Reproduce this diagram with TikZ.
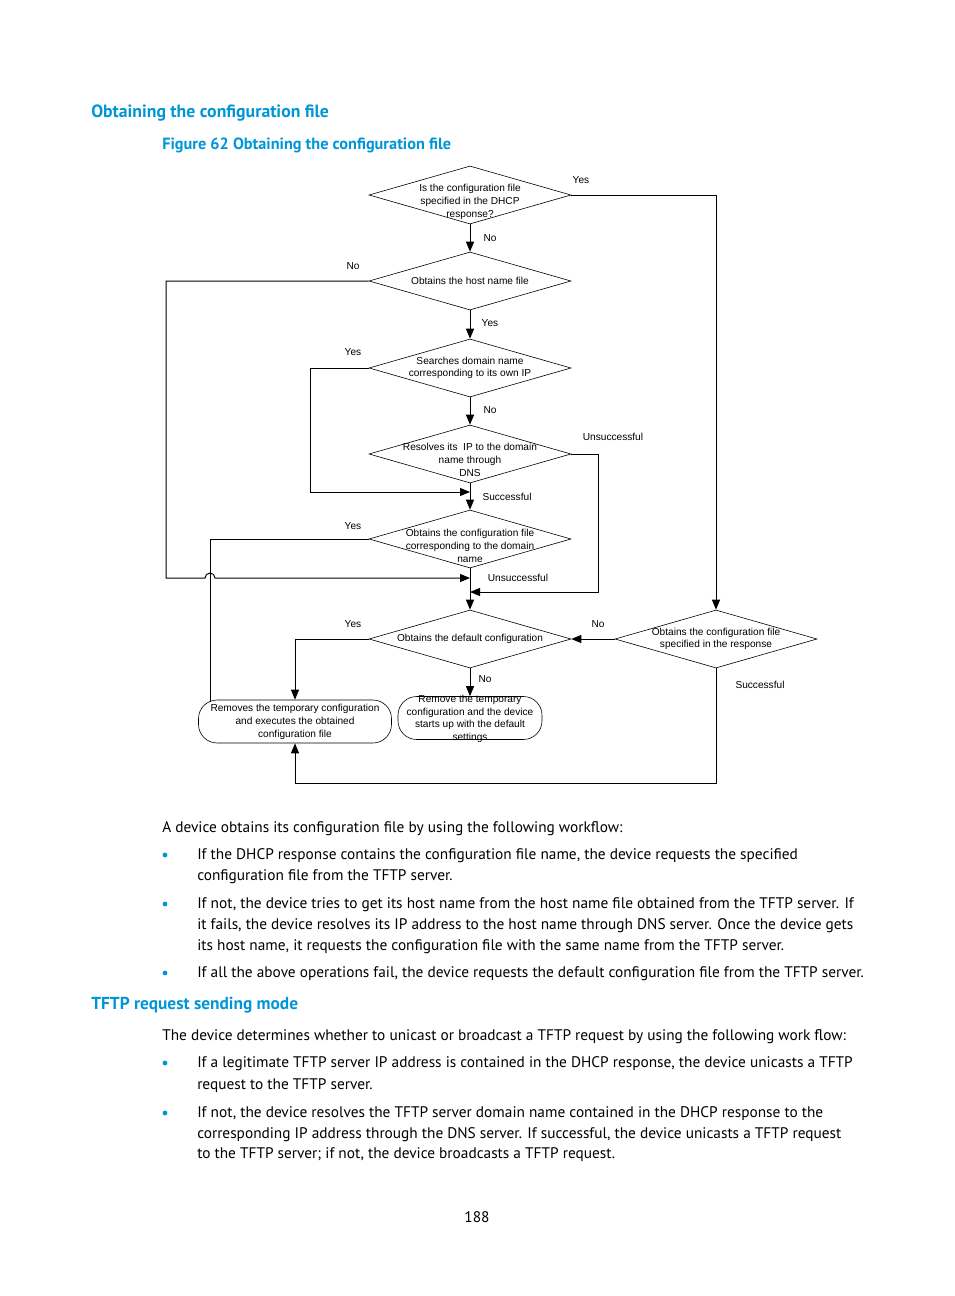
\documentclass[tikz,border=0pt]{standalone}
\usepackage{fontspec}
\setmainfont{PT Sans}
\newfontfamily\chartfont{Liberation Sans}
\usetikzlibrary{arrows.meta,shapes.geometric}
\definecolor{hpblue}{RGB}{0,150,214}
\tikzset{
  decision/.style = {diamond, draw=black, line width=0.45pt, inner sep=0pt, minimum width=151.5pt, minimum height=43.5pt},
  terminal/.style = {rectangle, rounded corners=14pt, draw=black, line width=0.45pt, inner sep=0pt, minimum height=32.25pt},
  chart/.style = {font=\chartfont\fontsize{7.6}{9.5}\selectfont, align=center, inner sep=0pt},
  flow/.style = {-{Triangle[length=7.5pt,width=6pt]}, line width=0.75pt},
  link/.style = {line width=0.75pt},
  bodyline/.style = {anchor=base west, inner sep=0pt, font=\fontsize{11.5}{15.75}\selectfont},
  heading/.style = {anchor=base west, inner sep=0pt, text=hpblue, font=\bfseries\fontsize{13.3}{15}\selectfont},
  bullet/.style = {circle, fill=hpblue, inner sep=0pt, minimum size=3.6pt},
}

\begin{document}
\begin{tikzpicture}[x=0.75pt, y=-0.75pt]
  \useasboundingbox (0,0) rectangle (954,1296);

  % headings
  \node [heading] (h1) at (91,117) {Obtaining the configuration file};
  \node [heading, font=\bfseries\fontsize{12.2}{15}\selectfont] (cap) at (162,149) {Figure 62 Obtaining the configuration file};

  % flow chart
  \node [decision] (d1) at (470,195) {};
  \node [decision] (d2) at (470,281) {};
  \node [decision] (d3) at (470,368) {};
  \node [decision] (d4) at (470,454) {};
  \node [decision] (d5) at (470,539) {};
  \node [decision] (d6) at (470,639) {};
  \node [decision] (d7) at (716,639) {};
  \node [terminal, minimum width=144.75pt] (r1) at (295,721.5) {};
  \node [terminal, minimum width=108pt] (r2) at (470,718) {};

  \node [chart] (d1t) at (470,202) {Is the configuration file\\specified in the DHCP\\response?};
  \node [chart] (d2t) at (470,281) {Obtains the host name file};
  \node [chart] (d3t) at (470,368) {Searches domain name\\corresponding to its own IP};
  \node [chart] (d4t) at (470,460) {Resolves its\ \ IP to the domain\\name through\\DNS};
  \node [chart] (d5t) at (470,546) {Obtains the configuration file\\corresponding to the domain\\name};
  \node [chart] (d6t) at (470,639) {Obtains the default configuration};
  \node [chart] (d7t) at (716,639) {Obtains the configuration file\\specified in the response};
  \node [chart] (r1t) at (295,722) {Removes the temporary configuration\\and executes the obtained\\configuration file};
  \node [chart] (r2t) at (470,719) {Remove the temporary\\configuration and the device\\starts up with the default\\settings};

  % branch labels
  \node [chart] (y1) at (581,180) {Yes};
  \node [chart] (n1) at (490,238) {No};
  \node [chart] (n2) at (353,266) {No};
  \node [chart] (y2) at (490,323) {Yes};
  \node [chart] (y3) at (353,352) {Yes};
  \node [chart] (n3) at (490,410) {No};
  \node [chart] (u1) at (613,437) {Unsuccessful};
  \node [chart] (s1) at (507,497) {Successful};
  \node [chart] (y4) at (353,526) {Yes};
  \node [chart] (u2) at (518,578) {Unsuccessful};
  \node [chart] (y5) at (353,624) {Yes};
  \node [chart] (n4) at (598,624) {No};
  \node [chart] (n5) at (485,679) {No};
  \node [chart] (s2) at (760,685) {Successful};

  \coordinate (j1) at (470,492);
  \coordinate (j2) at (470,578);
  \coordinate (j3) at (470,592);
  \coordinate (r1c) at (210,702);

  \draw [flow] (d1.south) -- (d2.north);
  \draw [flow] (d2.south) -- (d3.north);
  \draw [flow] (d3.south) -- (d4.north);
  \draw [flow] (d4.south) -- (d5.north);
  \draw [flow] (d5.south) -- (d6.north);
  \draw [flow] (d6.south) -- (r2.north);
  \draw [flow] (d1.east) -| (d7.north);
  \draw [flow] (d7.west) -- (d6.east);
  \draw [flow] (d6.west) -| (r1.north);
  \draw [flow] (d7.south) -- ++(0,115) -| (r1.south);
  \draw [flow] (d3.west) -- (310,368) |- (j1);
  \draw [flow] (d4.east) -- (598,454) |- (j3);
  \draw [flow] (d2.west) -- (166,281) -- (166,578) -- (205,578)
    arc [start angle=180, end angle=0, radius=3.75pt] -- (j2);
  \draw [link] (d5.west) -| (r1c);

  % text below the figure
  \node [bodyline] (l1) at (162,832) {A device obtains its configuration file by using the following workflow:};
  \node [bullet] (b1) at (165,855) {};
  \node [bodyline] (l2) at (197,859) {If the DHCP response contains the configuration file name, the device requests the specified};
  \node [bodyline] (l3) at (197,880) {configuration file from the TFTP server.};
  \node [bullet] (b2) at (165,904) {};
  \node [bodyline] (l4) at (197,908) {If not, the device tries to get its host name from the host name file obtained from the TFTP server. If};
  \node [bodyline] (l5) at (197,929) {it fails, the device resolves its IP address to the host name through DNS server. Once the device gets};
  \node [bodyline] (l6) at (197,950) {its host name, it requests the configuration file with the same name from the TFTP server.};
  \node [bullet] (b3) at (165,973) {};
  \node [bodyline] (l7) at (197,977) {If all the above operations fail, the device requests the default configuration file from the TFTP server.};

  \node [heading, font=\bfseries\fontsize{13}{15}\selectfont] (h2) at (91,1009) {TFTP request sending mode};
  \node [bodyline] (l8) at (162,1040) {The device determines whether to unicast or broadcast a TFTP request by using the following work flow:};
  \node [bullet] (b4) at (165,1063) {};
  \node [bodyline] (l9) at (197,1067) {If a legitimate TFTP server IP address is contained in the DHCP response, the device unicasts a TFTP};
  \node [bodyline] (l10) at (197,1089) {request to the TFTP server.};
  \node [bullet] (b5) at (165,1113) {};
  \node [bodyline] (l11) at (197,1117) {If not, the device resolves the TFTP server domain name contained in the DHCP response to the};
  \node [bodyline] (l12) at (197,1138) {corresponding IP address through the DNS server. If successful, the device unicasts a TFTP request};
  \node [bodyline] (l13) at (197,1158) {to the TFTP server; if not, the device broadcasts a TFTP request.};

  \node [bodyline, anchor=base] (pg) at (477,1222) {188};
\end{tikzpicture}
\end{document}
